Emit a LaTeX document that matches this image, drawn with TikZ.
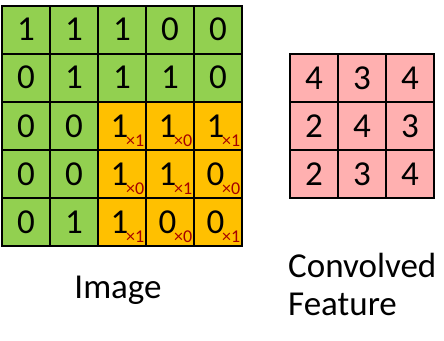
\documentclass[tikz,border=0pt]{standalone}
\usepackage{fontspec}
\setmainfont{Carlito}
\definecolor{imggreen}{HTML}{92D050}
\definecolor{imgorange}{HTML}{FFC000}
\definecolor{featpink}{HTML}{FFB0B0}
\definecolor{kred}{HTML}{A50000}
\tikzset{
  cellbox/.style={draw=black, line width=2pt, minimum size=48pt, inner sep=0pt, outer sep=0pt,
    font=\fontsize{35}{35}\selectfont},
  greencell/.style={cellbox, fill=imggreen},
  orangecell/.style={cellbox, fill=imgorange},
  pinkcell/.style={cellbox, fill=featpink},
  digitlbl/.style={inner sep=0pt, font=\fontsize{35}{35}\selectfont},
  weightlbl/.style={anchor=base west, inner sep=0pt, text=kred, font=\fontsize{18}{18}\selectfont},
  caption/.style={inner sep=0pt, font=\fontsize{35}{35}\selectfont}
}
\begin{document}
\begin{tikzpicture}[x=1pt,y=-1pt]
\useasboundingbox (0,0) rectangle (444,340);
% image grid
\foreach \r/\row in {0/{1,1,1,0,0},1/{0,1,1,1,0},2/{0,0,1,1,1},3/{0,0,1,1,0},4/{0,1,1,0,0}}{
  \foreach \v [count=\c from 0] in \row {
    \pgfmathtruncatemacro{\isor}{(\r>=2 && \c>=2) ? 1 : 0}
    \ifnum\isor=1
      \node[orangecell] (i\r\c) at ({26+48*\c},{29.5+48.2*\r}) {};
      \node[digitlbl] (d\r\c) at ([xshift=-2.5pt]i\r\c.center) {\v};
    \else
      \node[greencell] (i\r\c) at ({26+48*\c},{29.5+48.2*\r}) {\v};
    \fi
  }
}
% kernel weights
\foreach \r/\row in {2/{1,0,1},3/{0,1,0},4/{1,0,1}}{
  \foreach \w [count=\k from 2] in \row {
    \node[weightlbl] (w\r\k) at ([xshift=4pt,yshift=3.5pt]i\r\k.south) {×\w};
  }
}
% convolved feature
\foreach \r/\row in {0/{4,3,4},1/{2,4,3},2/{2,3,4}}{
  \foreach \v [count=\c from 0] in \row {
    \node[pinkcell] (f\r\c) at ({314+48*\c},{78+48*\r}) {\v};
  }
}
\node[caption, anchor=base] (imglbl) at (118,298) {Image};
\node[caption, anchor=base west] (conv) at (288,277) {Convolved};
\node[caption, anchor=base west] (feat) at (288,315) {Feature};
\end{tikzpicture}
\end{document}
